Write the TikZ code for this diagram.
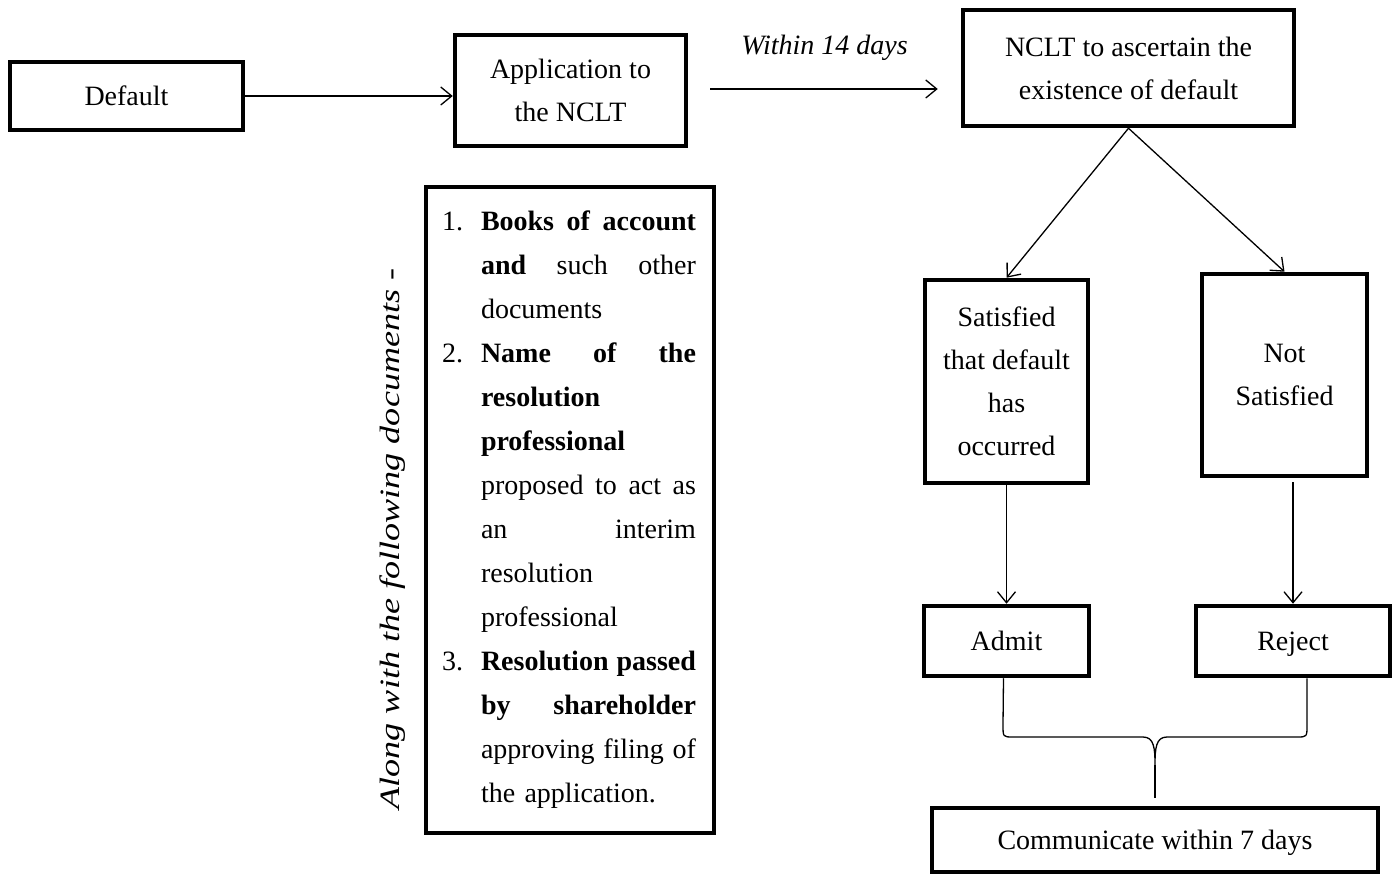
\documentclass[tikz,border=0pt]{standalone}
\usepackage{fontspec}
\setmainfont{Liberation Serif}
\usepackage{graphicx}
\usetikzlibrary{arrows.meta}

\newcommand{\docnum}[1]{\makebox[39pt][l]{#1}}
\newcommand{\docin}{\hspace*{39pt}}
\newcommand{\docsp}[1]{{\spaceskip=0.25em plus 1fil\xspaceskip=0.25em plus 1fil\makebox[215pt][s]{#1}}}
\newcommand{\docln}[1]{\makebox[215pt][l]{#1}}

\begin{document}
\begin{tikzpicture}[x=1pt,y=-1pt,
  font=\fontsize{28}{43}\selectfont,
  >={Straight Barb[length=11pt,width=18pt]},
  box/.style={draw,line width=4.5pt,align=center,inner sep=0pt},
  oneline/.style={text height=22pt,text depth=3pt},
  link/.style={line width=1.3pt}]
\useasboundingbox (0,0) rectangle (1398,874);

\node[box,oneline,minimum width=233pt,minimum height=68pt] (default) at (126.5,96) {Default};
\node[box,minimum width=231pt,minimum height=111pt] (app) at (570.5,90.5) {Application to\\the NCLT};
\node[box,minimum width=331pt,minimum height=116pt] (nclt) at (1128.5,68) {NCLT to ascertain the\\existence of default};
\node[box,minimum width=163pt,minimum height=203pt] (sat) at (1006.5,381.5) {Satisfied\\that default\\has\\occurred};
\node[box,minimum width=165pt,minimum height=202pt] (notsat) at (1284.5,375) {Not\\Satisfied};
\node[box,oneline,minimum width=165pt,minimum height=70pt] (admit) at (1006.5,641) {Admit};
\node[box,oneline,minimum width=194pt,minimum height=70pt] (reject) at (1293,641) {Reject};
\node[box,oneline,minimum width=446pt,minimum height=64pt] (comm) at (1155,840) {Communicate within 7 days};

% documents to be filed
\node[box,align=left,text width=256pt,minimum height=646pt,inner xsep=16pt,
  font=\fontsize{28}{44}\selectfont] (docs) at (570,510) {\parindent=0pt
\docnum{1.}\docsp{\textbf{Books of account}}\\
\docin\docsp{\textbf{and} such other}\\
\docin\docln{documents}\\
\docnum{2.}\docsp{\textbf{Name of the}}\\
\docin\docln{\textbf{resolution}}\\
\docin\docln{\textbf{professional}}\\
\docin\docsp{proposed to act as}\\
\docin\docsp{an interim}\\
\docin\docln{resolution}\\
\docin\docln{professional}\\
\docnum{3.}\docsp{\textbf{Resolution passed}}\\
\docin\docsp{\textbf{by shareholder}}\\
\docin\docsp{approving filing of}\\
\docin\docln{the application.}};
\node[rotate=90,font=\fontsize{28}{34}\selectfont\itshape] (along) at (393,539)
  {\scalebox{1.29}[1]{Along with the following documents -}};

\draw[link,->] (default.east) -- (default.east -| app.west);
\draw[link,->,shorten <=22pt,shorten >=23pt] (app.east |- 0,89) -- (nclt.west |- 0,89)
  node[midway,above=24pt,font=\fontsize{28}{34}\selectfont\itshape] (days) {Within 14 days};
\draw[link,->] (nclt.south) -- (sat.north);
\draw[link,->] (nclt.south) -- (notsat.north);
\draw[link,->] (sat.south) -- (admit.north);
\draw[link,->,shorten <=4pt] (notsat.south -| reject.north) -- (reject.north);

% brace
\draw[link] ([xshift=-3pt]admit.south) -- (1003,725) .. controls (1003,737) .. (1013,737)
  -- (1143,737) .. controls (1154,737) and (1155,748) .. (1155,765)
  .. controls (1155,748) and (1156,737) .. (1167,737) -- (1297,737)
  .. controls (1307,737) .. (1307,725) -- ([xshift=14pt]reject.south);
\draw[link] (1155,765) -- ([yshift=8pt]comm.north);
\end{tikzpicture}
\end{document}
